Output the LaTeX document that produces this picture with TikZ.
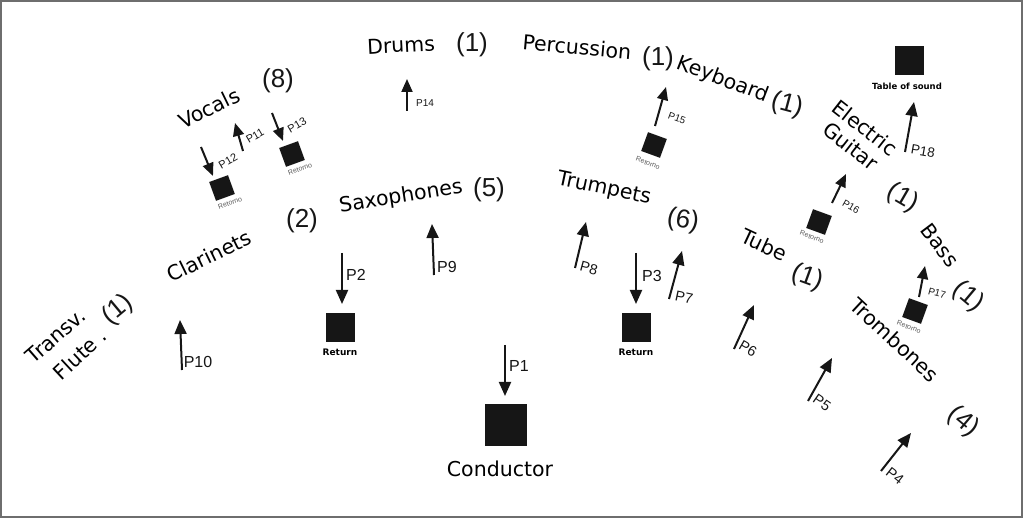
\documentclass[tikz,border=0pt]{standalone}
\usepackage{fontspec}
\setmainfont{Liberation Sans}
\newfontfamily\labfont{DejaVu Sans}
\usetikzlibrary{arrows.meta}
\definecolor{frame}{RGB}{110,110,110}
\definecolor{ink}{RGB}{22,22,22}
\begin{document}
\begin{tikzpicture}[x=1pt,y=-1pt,
  lab/.style={font=\labfont\fontsize{20.5}{23}\selectfont, inner sep=0, text=black},
  cnt/.style={font=\fontsize{26}{28}\selectfont, inner sep=0, text=ink},
  pbig/.style={font=\fontsize{16}{18}\selectfont, inner sep=0, text=ink},
  pmid/.style={font=\fontsize{14.5}{16}\selectfont, inner sep=0, text=ink},
  psml/.style={font=\fontsize{11}{12}\selectfont, inner sep=0, text=ink},
  ptiny/.style={font=\fontsize{10}{11}\selectfont, inner sep=0, text=ink},
  feed/.style={line width=2pt, draw=ink, -{Triangle[length=14pt,width=12pt]}},
  feeds/.style={line width=2pt, draw=ink, -{Triangle[length=13pt,width=11pt]}},
  bigbox/.style={fill=ink, minimum size=42pt, inner sep=0},
  box/.style={fill=ink, minimum size=29pt, inner sep=0},
  retbox/.style={fill=ink, minimum size=20pt, inner sep=0},
  rettext/.style={font=\fontsize{7}{8}\selectfont, text=black!65, inner sep=0},
  boxtext/.style={font=\labfont\bfseries\fontsize{9}{10}\selectfont, inner sep=0},
]
\useasboundingbox (0,0) rectangle (1023,518);
\draw[frame, line width=2pt] (1,1) rectangle (1022,517);

% ---- instrument labels ----
\node[lab, rotate=3] (drums) at (401,45) {Drums};
\node[cnt] (drumsn) at (472,45) {(1)};
\node[lab, rotate=-5] (perc) at (577,47) {Percussion};
\node[cnt] (percn) at (658,59) {(1)};
\node[lab, rotate=-21] (keyb) at (723,80) {Keyboard};
\node[cnt, rotate=-15] (keybn) at (787,105) {(1)};
\node[lab, rotate=-38, align=center] (guit) at (858,137) {Electric\\Guitar};
\node[cnt, rotate=-30] (guitn) at (903,198) {(1)};
\node[lab, rotate=-53] (bass) at (940,245) {Bass};
\node[cnt, rotate=-40] (bassn) at (968,297) {(1)};
\node[lab, rotate=-43] (tromb) at (895,340) {Trombones};
\node[cnt, rotate=-40] (trombn) at (963,422) {(4)};
\node[lab, rotate=-25] (tube) at (764,245) {Tube};
\node[cnt, rotate=-20] (tuben) at (807,278) {(1)};
\node[lab, rotate=-12] (trump) at (604,189) {Trumpets};
\node[cnt, rotate=-10] (trumpn) at (683,221) {(6)};
\node[lab, rotate=9] (sax) at (401,197) {Saxophones};
\node[cnt] (saxn) at (489,190) {(5)};
\node[lab, rotate=26] (clar) at (209,256) {Clarinets};
\node[cnt] (clarn) at (302,221) {(2)};
\node[lab, rotate=26] (voc) at (209,108) {Vocals};
\node[cnt] (vocn) at (278,81) {(8)};
\node[lab, rotate=41] (transv) at (56,336) {Transv.};
\node[lab, rotate=43] (flute) at (80,354) {Flute .};
\node[cnt, rotate=40] (fluten) at (118,310) {(1)};
\node[lab] (cond) at (500,469) {Conductor};

% ---- boxes ----
\node[bigbox] (condbox) at (506,425) {};
\node[box] (retl) at (340,328) {};
\node[boxtext] (retltxt) at (340,352) {Return};
\node[box] (retr) at (636,328) {};
\node[boxtext] (retrtxt) at (636,352) {Return};
\node[box] (table) at (909,61) {};
\node[boxtext, font=\labfont\bfseries\fontsize{8.5}{9}\selectfont] (tabletxt) at (907,86) {Table of sound};

\node[retbox, rotate=20] (rv1) at (222,188) {};
\node[rettext, rotate=20] (rv1t) at (230,203) {Retorno};
\node[retbox, rotate=20] (rv2) at (292,154) {};
\node[rettext, rotate=20] (rv2t) at (300,169) {Retorno};
\node[retbox, rotate=-20] (rp) at (654,145) {};
\node[rettext, rotate=-20] (rpt) at (648,163) {Retorno};
\node[retbox, rotate=-20] (rg) at (819,222) {};
\node[rettext, rotate=-20] (rgt) at (812,237) {Retorno};
\node[retbox, rotate=-20] (rb) at (915,311) {};
\node[rettext, rotate=-20] (rbt) at (909,327) {Retorno};

% ---- arrow end points ----
\coordinate (p1a) at (505,345);  \coordinate (p1b) at (505,396);
\coordinate (p2a) at (342,253);  \coordinate (p2b) at (342,304);
\coordinate (p3a) at (636,253);  \coordinate (p3b) at (636,304);
\coordinate (p4a) at (881,471);  \coordinate (p4b) at (911,433);
\coordinate (p5a) at (808,401);  \coordinate (p5b) at (832,358);
\coordinate (p6a) at (734,349);  \coordinate (p6b) at (754,305);
\coordinate (p7a) at (669,299);  \coordinate (p7b) at (682,251);
\coordinate (p8a) at (575,268);  \coordinate (p8b) at (586,222);
\coordinate (p9a) at (434,275);  \coordinate (p9b) at (432,224);
\coordinate (p10a) at (182,370); \coordinate (p10b) at (180,320);
\coordinate (p11a) at (243,151); \coordinate (p11b) at (235,123);
\coordinate (p12a) at (201,147); \coordinate (p12b) at (213,176);
\coordinate (p13a) at (272,113); \coordinate (p13b) at (283,141);
\coordinate (p14a) at (407,111); \coordinate (p14b) at (407,79);
\coordinate (p15a) at (655,126); \coordinate (p15b) at (666,87);
\coordinate (p16a) at (832,203); \coordinate (p16b) at (846,174);
\coordinate (p17a) at (919,297); \coordinate (p17b) at (925,266);
\coordinate (p18a) at (905,152); \coordinate (p18b) at (914,102);

\draw[feed] (p1a) -- (p1b);
\draw[feed] (p2a) -- (p2b);
\draw[feed] (p3a) -- (p3b);
\draw[feed] (p4a) -- (p4b);
\draw[feed] (p5a) -- (p5b);
\draw[feed] (p6a) -- (p6b);
\draw[feed] (p7a) -- (p7b);
\draw[feed] (p8a) -- (p8b);
\draw[feed] (p9a) -- (p9b);
\draw[feed] (p10a) -- (p10b);
\draw[feeds] (p11a) -- (p11b);
\draw[feeds] (p12a) -- (p12b);
\draw[feeds] (p13a) -- (p13b);
\draw[feeds] (p14a) -- (p14b);
\draw[feeds] (p15a) -- (p15b);
\draw[feeds] (p16a) -- (p16b);
\draw[feeds] (p17a) -- (p17b);
\draw[feed] (p18a) -- (p18b);

% ---- arrow labels ----
\node[pbig] (l1) at (519,366) {P1};
\node[pbig] (l2) at (356,275) {P2};
\node[pbig] (l3) at (652,276) {P3};
\node[pmid, rotate=-38] (l4) at (895,476) {P4};
\node[pmid, rotate=-35] (l5) at (822,403) {P5};
\node[pmid, rotate=-30] (l6) at (748,349) {P6};
\node[pmid, rotate=-12] (l7) at (684,297) {P7};
\node[pmid, rotate=-15] (l8) at (589,268) {P8};
\node[pbig] (l9) at (447,267) {P9};
\node[pbig] (l10) at (198,362) {P10};
\node[psml, rotate=30] (l11) at (255,136) {P11};
\node[psml, rotate=30] (l12) at (228,161) {P12};
\node[psml, rotate=30] (l13) at (297,125) {P13};
\node[ptiny] (l14) at (425,103) {P14};
\node[ptiny, rotate=-20] (l15) at (677,118) {P15};
\node[ptiny, rotate=-30] (l16) at (851,207) {P16};
\node[ptiny, rotate=-15] (l17) at (937,293) {P17};
\node[font=\fontsize{13.5}{15}\selectfont, inner sep=0, text=ink, rotate=-10] (l18) at (923,151) {P18};
\end{tikzpicture}
\end{document}
